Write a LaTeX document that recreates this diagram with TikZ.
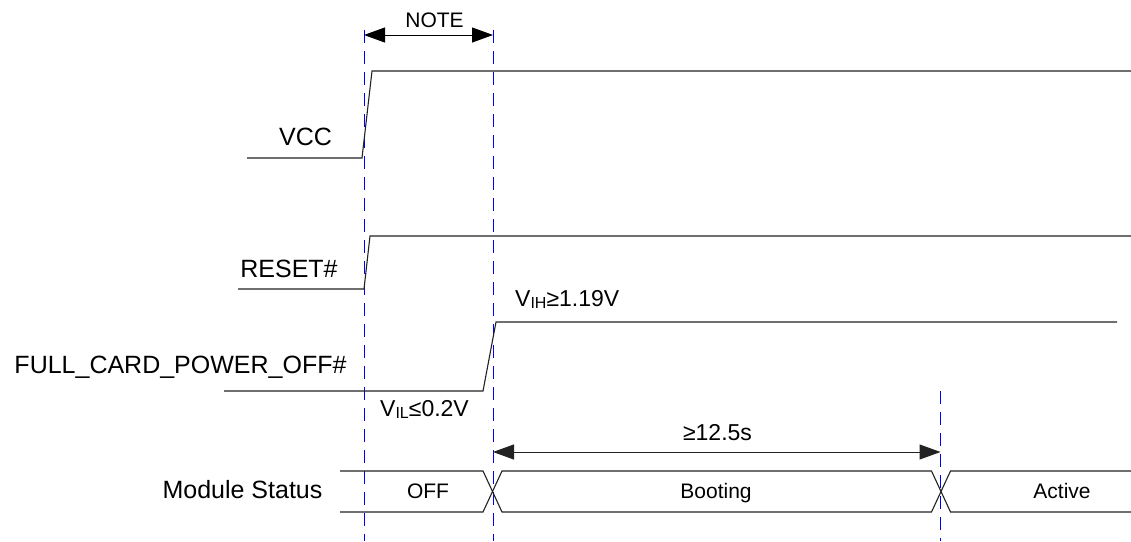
\documentclass[tikz,border=0pt]{standalone}
\usepackage{fontspec}
\setmainfont{Liberation Sans}
\usepackage{tikz}
\usetikzlibrary{arrows.meta, positioning, calc}
\definecolor{tdblue}{HTML}{0000FF}
\definecolor{tdline}{HTML}{222222}
\newcommand{\levsub}[1]{\raisebox{-0.2ex}{\fontsize{16}{18}\selectfont #1}}

\begin{document}
\begin{tikzpicture}[x=1pt, y=-1pt,
      sig/.style={draw=tdline, line width=1.1pt},
      tline/.style={draw=tdblue, line width=1pt, dash pattern=on 13pt off 8pt},
      biglbl/.style={font=\fontsize{25}{29}\selectfont, inner sep=0pt, anchor=base},
      smalllbl/.style={font=\fontsize{21}{25}\selectfont, inner sep=0pt, anchor=base},
      levlbl/.style={font=\fontsize{23}{27}\selectfont, inner sep=0pt, anchor=base west},
      span/.style={{Triangle[length=21pt, width=15pt]}-{Triangle[length=21pt, width=15pt]},
                   line width=1pt}]
      \useasboundingbox (0,0) rectangle (1131,541);

      % timing marks
      \coordinate (t0top) at (364,30);   \coordinate (t0bot) at (364,541);
      \coordinate (t1top) at (493,30);   \coordinate (t1bot) at (493,541);
      \coordinate (t2top) at (940.5,391); \coordinate (t2bot) at (940.5,541);
      \draw[tline] (t0top) -- (t0bot);
      \draw[tline] (t1top) -- (t1bot);
      \draw[tline] (t2top) -- (t2bot);

      % NOTE span
      \coordinate (noteL) at (364,35);
      \coordinate (noteR) at (493,35);
      \draw[span, black] (noteL) -- (noteR);
      \node[smalllbl] (note) at (434.5,27) {NOTE};

      % signals
      \node[biglbl] (vcc) at (305.5,145) {VCC};
      \draw[sig] (247,158) -- (362,158) -- (372,71) -- (1131,71);

      \node[biglbl] (reset) at (289,277) {RESET\#};
      \draw[sig] (238,289) -- (364,289) -- (370,236) -- (1131,236);

      \node[biglbl] (fcpo) at (180.5,373) {FULL\_CARD\_POWER\_OFF\#};
      \draw[sig] (224,391) -- (483,391) -- (496,322) -- (1117,322);
      \node[levlbl] (vih) at (515,306) {V\levsub{IH}≥1.19V};
      \node[levlbl] (vil) at (380,416) {V\levsub{IL}≤0.2V};

      % boot time span
      \coordinate (bootL) at (493,452);
      \coordinate (bootR) at (940.5,452);
      \draw[span, tdline] (bootL) -- (bootR);
      \node[levlbl, anchor=base] (boottime) at (717.5,440) {≥12.5s};

      % module status bus
      \node[biglbl] (status) at (242.5,498) {Module Status};
      \draw[sig] (340,471) -- (483,471) -- (502,512) -- (931.5,512) -- (950.5,471) -- (1131,471);
      \draw[sig] (340,512) -- (483,512) -- (502,471) -- (931.5,471) -- (950.5,512) -- (1131,512);
      \node[smalllbl] (off) at (428,498) {OFF};
      \node[smalllbl] (booting) at (716,498) {Booting};
      \node[smalllbl] (active) at (1062,498) {Active};
    \end{tikzpicture}
\end{document}
